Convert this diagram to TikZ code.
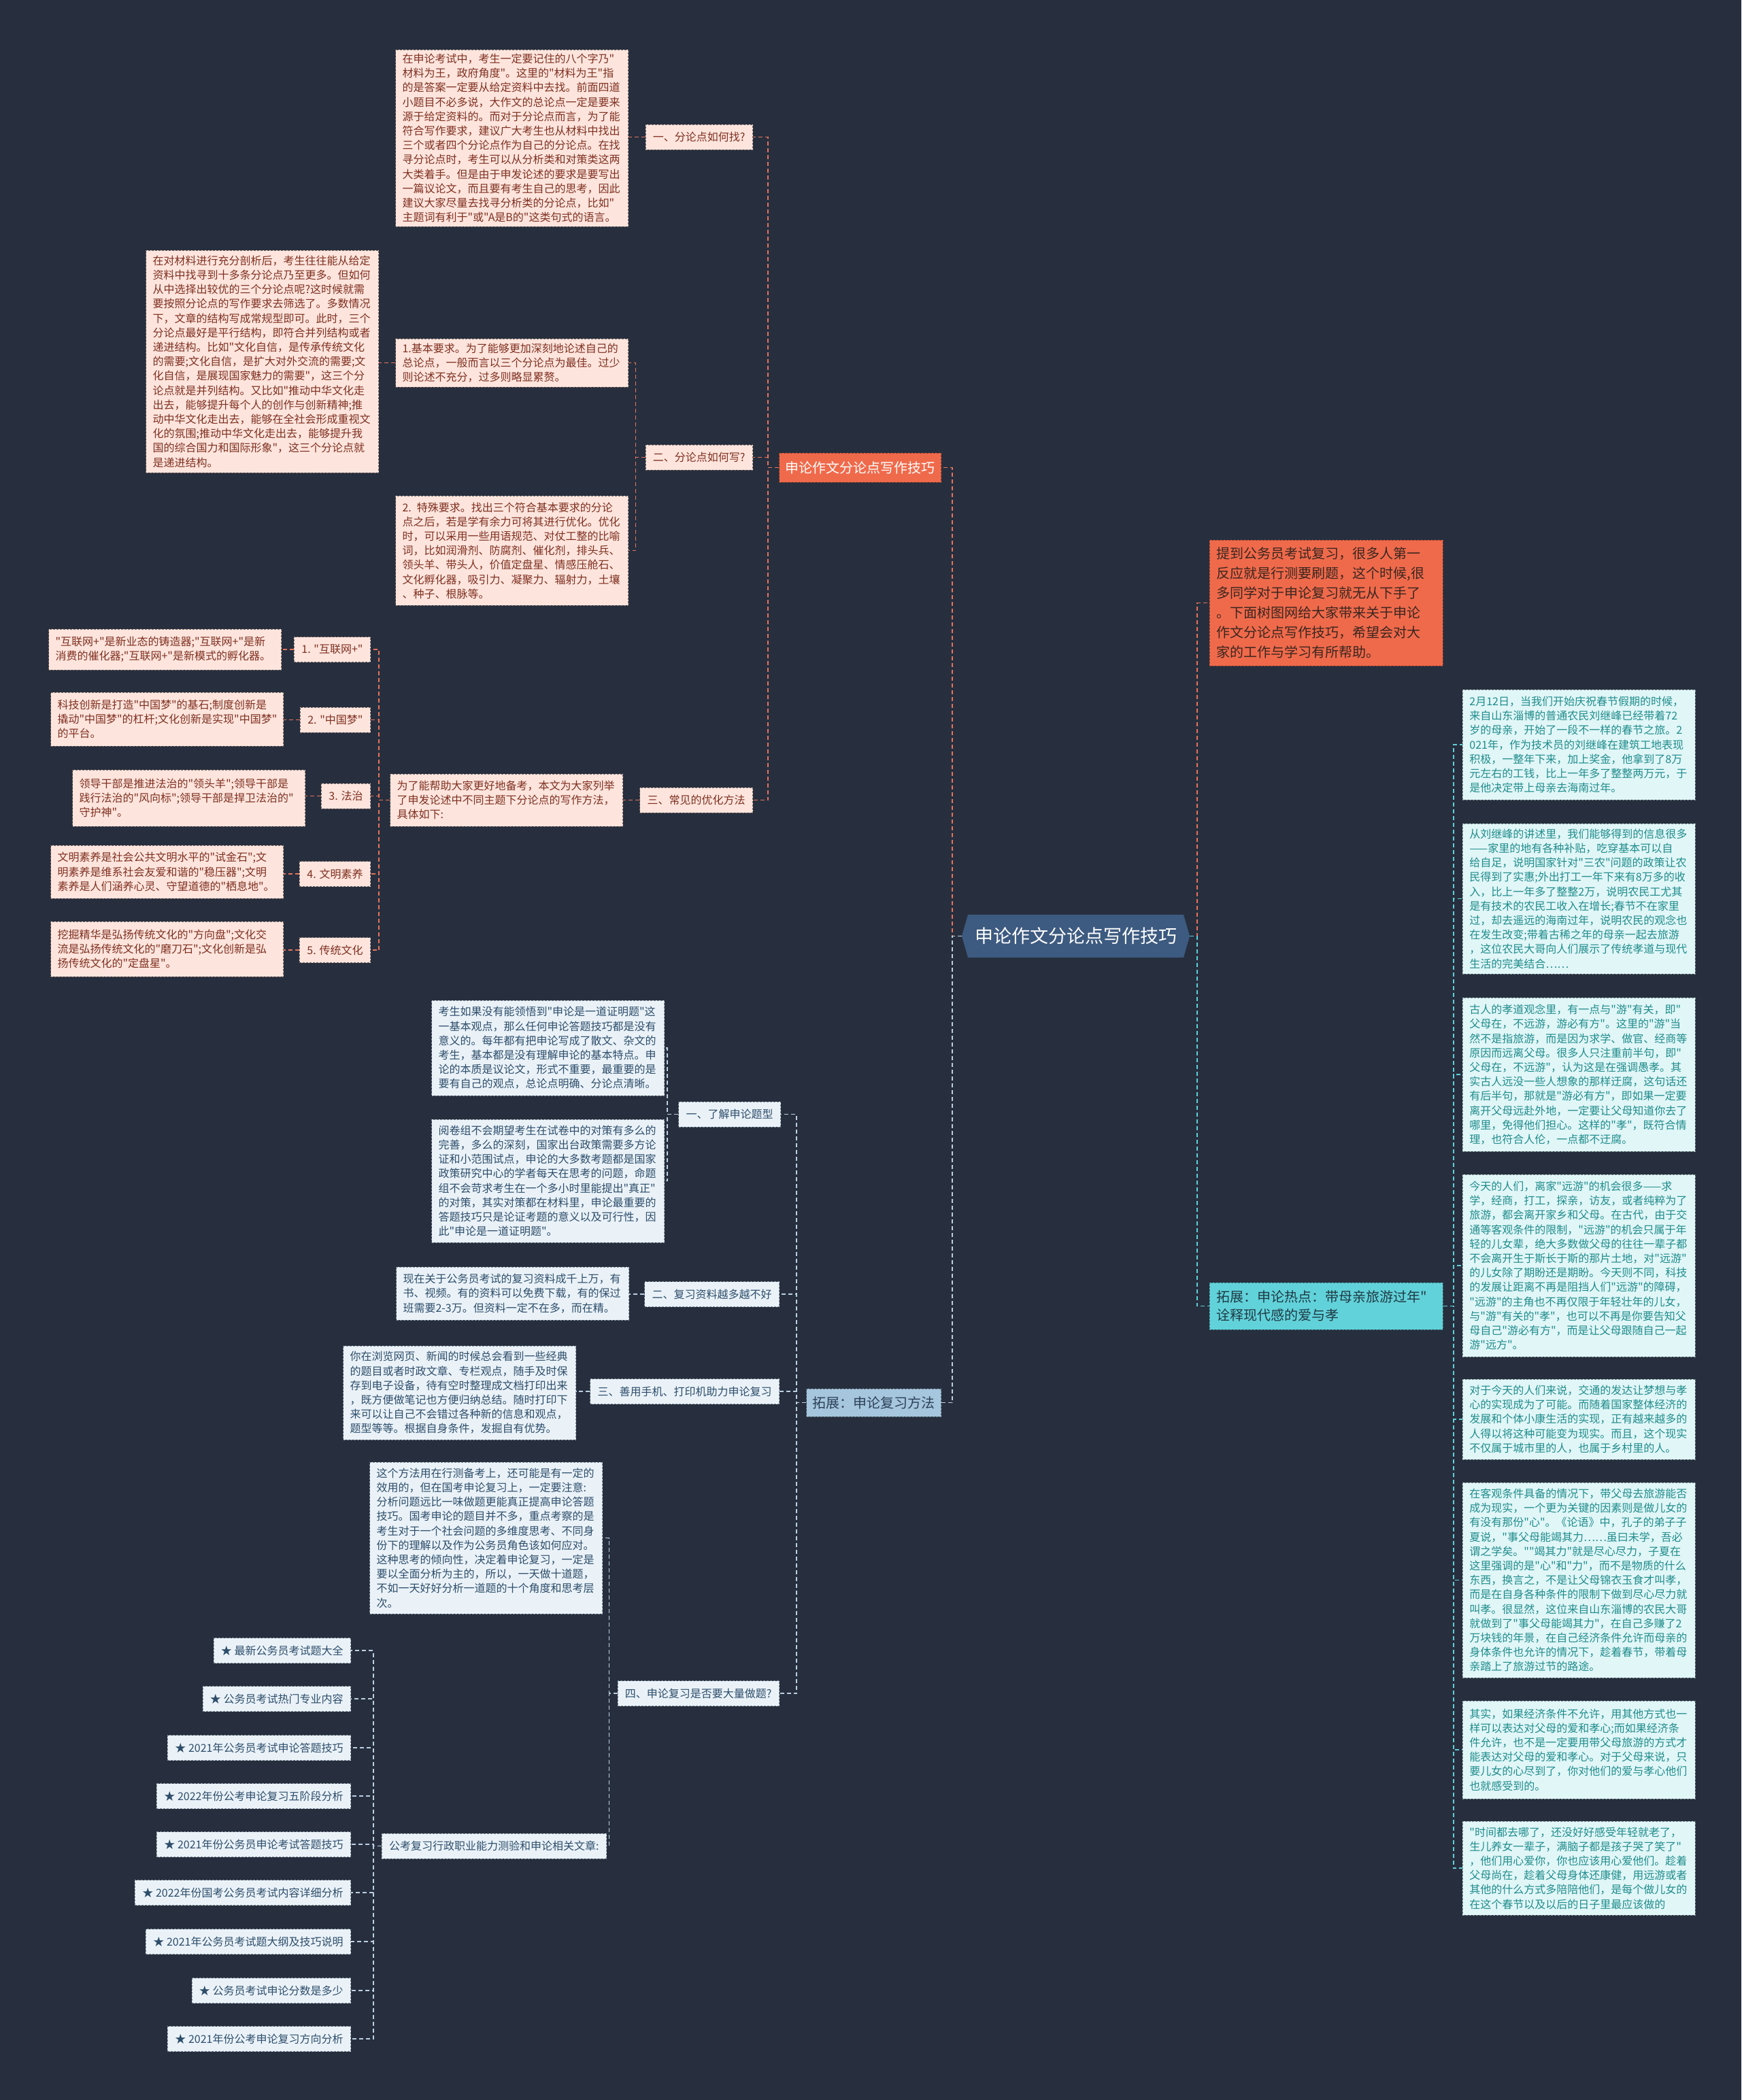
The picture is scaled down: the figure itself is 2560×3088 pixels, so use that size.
\documentclass[tikz,border=0pt]{standalone}
\usepackage{fontspec}
\newfontfamily\cjkfam{Noto Sans CJK SC}
\newcommand\fsz[2]{\cjkfam\fontsize{#1}{#2}\selectfont}
\usetikzlibrary{calc}
\definecolor{bg}{HTML}{272F3E}
\definecolor{pinkfill}{HTML}{FDE5DD}
\definecolor{pinkedge}{HTML}{7A6A66}
\definecolor{pinktext}{HTML}{7F2F20}
\definecolor{orangefill}{HTML}{EF6A4B}
\definecolor{lineorange}{HTML}{E5735B}
\definecolor{introtext}{HTML}{3A2620}
\definecolor{centralfill}{HTML}{3D5A80}
\definecolor{cyanfill}{HTML}{62D2DA}
\definecolor{cyantext}{HTML}{1F3A44}
\definecolor{rfill}{HTML}{E1F6F7}
\definecolor{rtext}{HTML}{1F8C8C}
\definecolor{redge}{HTML}{7A8E90}
\definecolor{lbfill}{HTML}{EAF2F8}
\definecolor{lbtext}{HTML}{2D4D6A}
\definecolor{lbedge}{HTML}{7E8C98}
\definecolor{ebfill}{HTML}{A6C6DE}
\definecolor{ebtext}{HTML}{2B4057}
\definecolor{lineblue}{HTML}{BCD0E2}
\definecolor{linecyan}{HTML}{5FD0D9}
\begin{document}
\begin{tikzpicture}[x=1pt,y=-1pt,
  con/.style={line width=1.8pt, dash pattern=on 6pt off 4pt},
  oc/.style={con, draw=lineorange},
  cc/.style={con, draw=linecyan},
  bc/.style={con, draw=lineblue},
  base/.style={rectangle, align=left, line width=0.9pt, dash pattern=on 3pt off 2pt, inner ysep=5pt},
  small/.style={font=\fsz{16}{21.2}},
  pbox/.style={base, small, fill=pinkfill, draw=pinkedge, text=pinktext, text width=322pt, inner xsep=10pt},
  plab/.style={base, small, fill=pinkfill, draw=pinkedge, text=pinktext, inner xsep=11pt, minimum height=37pt},
  rbox/.style={base, small, fill=rfill, draw=redge, text=rtext, text width=322pt, inner xsep=10pt, anchor=west},
  lbox/.style={base, small, fill=lbfill, draw=lbedge, text=lbtext, text width=322pt, inner xsep=10pt, anchor=east},
  llab/.style={base, small, fill=lbfill, draw=lbedge, text=lbtext, inner xsep=11pt, minimum height=37pt, anchor=east}
]
\fill[bg] (0,0) rectangle (2560,3088);
\useasboundingbox (0,0) rectangle (2560,3088);

% ---------- central node ----------
\fill[centralfill] (1423,1345) -- (1740,1345) -- (1749,1376.5) -- (1740,1408) -- (1423,1408) -- (1414,1376.5) -- cycle;
\node[minimum width=335pt, minimum height=63pt, inner sep=0pt, text=white, font=\fsz{27}{32}] (cen) at (1581.5,1376.5) {申论作文分论点写作技巧};

% ---------- right side ----------
\node[base, fill=orangefill, draw=orangefill!60!black, text=introtext, font=\fsz{20}{29}, text width=322pt, inner xsep=10.5pt, minimum height=185pt, anchor=west] (intro) at (1778,886.5) {提到公务员考试复习，很多人第一\\反应就是行测要刷题，这个时候,很\\多同学对于申论复习就无从下手了\\。下面树图网给大家带来关于申论\\作文分论点写作技巧，希望会对大\\家的工作与学习有所帮助。};

\node[base, fill=cyanfill, draw=cyanfill!60!black, text=cyantext, font=\fsz{20}{27}, text width=322pt, inner xsep=10.5pt, minimum height=69pt, anchor=west] (hot) at (1778,1920.5) {拓展：申论热点：带母亲旅游过年"\\诠释现代感的爱与孝};

\node[rbox, minimum height=162pt] (r1) at (2150,1095) {2月12日，当我们开始庆祝春节假期的时候，\\来自山东淄博的普通农民刘继峰已经带着72\\岁的母亲，开始了一段不一样的春节之旅。2\\021年，作为技术员的刘继峰在建筑工地表现\\积极，一整年下来，加上奖金，他拿到了8万\\元左右的工钱，比上一年多了整整两万元，于\\是他决定带上母亲去海南过年。};
\node[rbox, minimum height=221pt] (r2) at (2150,1321.5) {从刘继峰的讲述里，我们能够得到的信息很多\\——家里的地有各种补贴，吃穿基本可以自\\给自足，说明国家针对"三农"问题的政策让农\\民得到了实惠;外出打工一年下来有8万多的收\\入，比上一年多了整整2万，说明农民工尤其\\是有技术的农民工收入在增长;春节不在家里\\过，却去遥远的海南过年，说明农民的观念也\\在发生改变;带着古稀之年的母亲一起去旅游\\，这位农民大哥向人们展示了传统孝道与现代\\生活的完美结合……};
\node[rbox, minimum height=226pt] (r3) at (2150,1580) {古人的孝道观念里，有一点与"游"有关，即"\\父母在，不远游，游必有方"。这里的"游"当\\然不是指旅游，而是因为求学、做官、经商等\\原因而远离父母。很多人只注重前半句，即"\\父母在，不远游"，认为这是在强调愚孝。其\\实古人远没一些人想象的那样迂腐，这句话还\\有后半句，那就是"游必有方"，即如果一定要\\离开父母远赴外地，一定要让父母知道你去了\\哪里，免得他们担心。这样的"孝"，既符合情\\理，也符合人伦，一点都不迂腐。};
\node[rbox, minimum height=268pt] (r4) at (2150,1861) {今天的人们，离家"远游"的机会很多——求\\学，经商，打工，探亲，访友，或者纯粹为了\\旅游，都会离开家乡和父母。在古代，由于交\\通等客观条件的限制，"远游"的机会只属于年\\轻的儿女辈，绝大多数做父母的往往一辈子都\\不会离开生于斯长于斯的那片土地，对"远游"\\的儿女除了期盼还是期盼。今天则不同，科技\\的发展让距离不再是阻挡人们"远游"的障碍，\\"远游"的主角也不再仅限于年轻壮年的儿女，\\与"游"有关的"孝"，也可以不再是你要告知父\\母自己"游必有方"，而是让父母跟随自己一起\\游"远方"。};
\node[rbox, minimum height=118pt] (r5) at (2150,2087) {对于今天的人们来说，交通的发达让梦想与孝\\心的实现成为了可能。而随着国家整体经济的\\发展和个体小康生活的实现，正有越来越多的\\人得以将这种可能变为现实。而且，这个现实\\不仅属于城市里的人，也属于乡村里的人。};
\node[rbox, minimum height=287pt] (r6) at (2150,2323.5) {在客观条件具备的情况下，带父母去旅游能否\\成为现实，一个更为关键的因素则是做儿女的\\有没有那份"心"。《论语》中，孔子的弟子子\\夏说，"事父母能竭其力……虽曰未学，吾必\\谓之学矣。""竭其力"就是尽心尽力，子夏在\\这里强调的是"心"和"力"，而不是物质的什么\\东西，换言之，不是让父母锦衣玉食才叫孝，\\而是在自身各种条件的限制下做到尽心尽力就\\叫孝。很显然，这位来自山东淄博的农民大哥\\就做到了"事父母能竭其力"，在自己多赚了2\\万块钱的年景，在自己经济条件允许而母亲的\\身体条件也允许的情况下，趁着春节，带着母\\亲踏上了旅游过节的路途。};
\node[rbox, minimum height=144pt] (r7) at (2150,2573) {其实，如果经济条件不允许，用其他方式也一\\样可以表达对父母的爱和孝心;而如果经济条\\件允许，也不是一定要用带父母旅游的方式才\\能表达对父母的爱和孝心。对于父母来说，只\\要儿女的心尽到了，你对他们的爱与孝心他们\\也就感受到的。};
\node[rbox, minimum height=138pt] (r8) at (2150,2747) {"时间都去哪了，还没好好感受年轻就老了，\\生儿养女一辈子，满脑子都是孩子哭了笑了"\\，他们用心爱你，你也应该用心爱他们。趁着\\父母尚在，趁着父母身体还康健，用远游或者\\其他的什么方式多陪陪他们，是每个做儿女的\\在这个春节以及以后的日子里最应该做的};

% ---------- upper left (orange branch) ----------
\node[base, fill=orangefill, draw=orangefill!60!black, text=white, font=\fsz{20}{24}, inner xsep=9pt, minimum height=43pt, anchor=east] (ob) at (1384,687.5) {申论作文分论点写作技巧};

\node[plab, anchor=east] (l1) at (1107,201.5) {一、分论点如何找?};
\node[plab, anchor=east] (l2) at (1107,672.5) {二、分论点如何写?};
\node[plab, anchor=east] (l3) at (1107,1176.5) {三、常见的优化方法};

\node[pbox, anchor=east, minimum height=260pt] (t1) at (924,203) {在申论考试中，考生一定要记住的八个字乃"\\材料为王，政府角度"。这里的"材料为王"指\\的是答案一定要从给定资料中去找。前面四道\\小题目不必多说，大作文的总论点一定是要来\\源于给定资料的。而对于分论点而言，为了能\\符合写作要求，建议广大考生也从材料中找出\\三个或者四个分论点作为自己的分论点。在找\\寻分论点时，考生可以从分析类和对策类这两\\大类着手。但是由于申发论述的要求是要写出\\一篇议论文，而且要有考生自己的思考，因此\\建议大家尽量去找寻分析类的分论点，比如"\\主题词有利于"或"A是B的"这类句式的语言。};

\node[pbox, anchor=east, minimum height=71pt] (t21) at (924,533.5) {1.基本要求。为了能够更加深刻地论述自己的\\总论点，一般而言以三个分论点为最佳。过少\\则论述不充分，过多则略显累赘。};
\node[pbox, anchor=east, minimum height=327pt] (t0) at (557,531.5) {在对材料进行充分剖析后，考生往往能从给定\\资料中找寻到十多条分论点乃至更多。但如何\\从中选择出较优的三个分论点呢?这时候就需\\要按照分论点的写作要求去筛选了。多数情况\\下，文章的结构写成常规型即可。此时，三个\\分论点最好是平行结构，即符合并列结构或者\\递进结构。比如"文化自信，是传承传统文化\\的需要;文化自信，是扩大对外交流的需要;文\\化自信，是展现国家魅力的需要"，这三个分\\论点就是并列结构。又比如"推动中华文化走\\出去，能够提升每个人的创作与创新精神;推\\动中华文化走出去，能够在全社会形成重视文\\化的氛围;推动中华文化走出去，能够提升我\\国的综合国力和国际形象"，这三个分论点就\\是递进结构。};
\node[pbox, anchor=east, minimum height=161pt] (t22) at (924,809.5) {2. 特殊要求。找出三个符合基本要求的分论\\点之后，若是学有余力可将其进行优化。优化\\时，可以采用一些用语规范、对仗工整的比喻\\词，比如润滑剂、防腐剂、催化剂，排头兵、\\领头羊、带头人，价值定盘星、情感压舱石、\\文化孵化器，吸引力、凝聚力、辐射力，土壤\\、种子、根脉等。};

\node[pbox, anchor=east, minimum height=77pt] (t3) at (916,1176.5) {为了能帮助大家更好地备考，本文为大家列举\\了申发论述中不同主题下分论点的写作方法，\\具体如下:};

\node[plab, anchor=east] (i1) at (545,955) {1. "互联网+"};
\node[plab, anchor=east] (i2) at (545,1058.5) {2. "中国梦"};
\node[plab, anchor=east] (i3) at (545,1170.5) {3. 法治};
\node[plab, anchor=east] (i4) at (545,1285) {4. 文明素养};
\node[plab, anchor=east] (i5) at (545,1397) {5. 传统文化};

\node[pbox, anchor=east, minimum height=60pt] (it1) at (414,955) {"互联网+"是新业态的铸造器;"互联网+"是新\\消费的催化器;"互联网+"是新模式的孵化器。};
\node[pbox, anchor=east, minimum height=79pt] (it2) at (417,1057.5) {科技创新是打造"中国梦"的基石;制度创新是\\撬动"中国梦"的杠杆;文化创新是实现"中国梦"\\的平台。};
\node[pbox, anchor=east, minimum height=83pt] (it3) at (449,1173.5) {领导干部是推进法治的"领头羊";领导干部是\\践行法治的"风向标";领导干部是捍卫法治的"\\守护神"。};
\node[pbox, anchor=east, minimum height=78pt] (it4) at (417,1282) {文明素养是社会公共文明水平的"试金石";文\\明素养是维系社会友爱和谐的"稳压器";文明\\素养是人们涵养心灵、守望道德的"栖息地"。};
\node[pbox, anchor=east, minimum height=81pt] (it5) at (417,1395.5) {挖掘精华是弘扬传统文化的"方向盘";文化交\\流是弘扬传统文化的"磨刀石";文化创新是弘\\扬传统文化的"定盘星"。};

% ---------- lower left (blue branch) ----------
\node[base, fill=ebfill, draw=ebfill!55!black, text=ebtext, font=\fsz{20}{24}, inner xsep=9pt, minimum height=41pt, anchor=east] (eb) at (1384,2062.5) {拓展：申论复习方法};

\node[llab] (m1) at (1148,1638.5) {一、了解申论题型};
\node[llab] (m2) at (1146,1903) {二、复习资料越多越不好};
\node[llab] (m3) at (1146,2046) {三、善用手机、打印机助力申论复习};
\node[llab] (m4) at (1146,2490) {四、申论复习是否要大量做题?};

\node[lbox, minimum height=140pt] (m1a) at (977,1541) {考生如果没有能领悟到"申论是一道证明题"这\\一基本观点，那么任何申论答题技巧都是没有\\意义的。每年都有把申论写成了散文、杂文的\\考生，基本都是没有理解申论的基本特点。申\\论的本质是议论文，形式不重要，最重要的是\\要有自己的观点，总论点明确、分论点清晰。};
\node[lbox, minimum height=181pt] (m1b) at (977,1736.5) {阅卷组不会期望考生在试卷中的对策有多么的\\完善，多么的深刻，国家出台政策需要多方论\\证和小范围试点，申论的大多数考题都是国家\\政策研究中心的学者每天在思考的问题，命题\\组不会苛求考生在一个多小时里能提出"真正"\\的对策，其实对策都在材料里，申论最重要的\\答题技巧只是论证考题的意义以及可行性，因\\此"申论是一道证明题"。};
\node[lbox, minimum height=78pt] (m2a) at (925,1902) {现在关于公务员考试的复习资料成千上万，有\\书、视频。有的资料可以免费下载，有的保过\\班需要2-3万。但资料一定不在多，而在精。};
\node[lbox, minimum height=138pt] (m3a) at (847,2048) {你在浏览网页、新闻的时候总会看到一些经典\\的题目或者时政文章、专栏观点，随手及时保\\存到电子设备，待有空时整理成文档打印出来\\，既方便做笔记也方便归纳总结。随时打印下\\来可以让自己不会错过各种新的信息和观点，\\题型等等。根据自身条件，发掘自有优势。};
\node[lbox, minimum height=223pt] (m4a) at (886,2261.5) {这个方法用在行测备考上，还可能是有一定的\\效用的，但在国考申论复习上，一定要注意:\\分析问题远比一味做题更能真正提高申论答题\\技巧。国考申论的题目并不多，重点考察的是\\考生对于一个社会问题的多维度思考、不同身\\份下的理解以及作为公务员角色该如何应对。\\这种思考的倾向性，决定着申论复习，一定是\\要以全面分析为主的，所以，一天做十道题，\\不如一天好好分析一道题的十个角度和思考层\\次。};
\node[llab] (m4b) at (892,2714.5) {公考复习行政职业能力测验和申论相关文章:};

\node[llab] (s1) at (516,2427) {★ 最新公务员考试题大全};
\node[llab] (s2) at (516,2498) {★ 公务员考试热门专业内容};
\node[llab] (s3) at (516,2570) {★ 2021年公务员考试申论答题技巧};
\node[llab] (s4) at (516,2641) {★ 2022年份公考申论复习五阶段分析};
\node[llab] (s5) at (516,2712) {★ 2021年份公务员申论考试答题技巧};
\node[llab] (s6) at (516,2783) {★ 2022年份国考公务员考试内容详细分析};
\node[llab] (s7) at (516,2855) {★ 2021年公务员考试题大纲及技巧说明};
\node[llab] (s8) at (516,2927) {★ 公务员考试申论分数是多少};
\node[llab] (s9) at (516,2998) {★ 2021年份公考申论复习方向分析};

% ---------- connectors ----------
\draw[oc] (cen.west) -- ++(-14,0) |- (ob.east);
\draw[bc] (cen.west) -- ++(-14,0) |- (eb.east);
\draw[oc] (cen.east) -- ++(11,0) |- (intro.west);
\draw[cc] (cen.east) -- ++(11,0) |- (hot.west);

\foreach \c in {l1,l2,l3} \draw[oc] (ob.west) -- ++(-16,0) |- (\c.east);
\draw[oc] (l1.west) -- (l1.west -| t1.east);
\draw[oc] (l2.west) -- ++(-14,0) |- (t21.east);
\draw[oc] (l2.west) -- ++(-14,0) |- (t22.east);
\draw[oc] (t21.west) -- (t21.west -| t0.east);
\draw[oc] (l3.west) -- (l3.west -| t3.east);
\foreach \c in {i1,i2,i3,i4,i5} \draw[oc] (t3.west) -- ++(-16,0) |- (\c.east);
\draw[oc] (i1.west) -- (i1.west -| it1.east);
\draw[oc] (i2.west) -- (i2.west -| it2.east);
\draw[oc] (i3.west) -- (i3.west -| it3.east);
\draw[oc] (i4.west) -- (i4.west -| it4.east);
\draw[oc] (i5.west) -- (i5.west -| it5.east);

\foreach \c in {r1,r2,r3,r4,r5,r6,r7,r8} \draw[cc] (hot.east) -- ++(15,0) |- (\c.west);

\foreach \c in {m1,m2,m3,m4} \draw[bc] (eb.west) -- ++(-14,0) |- (\c.east);
\draw[bc] (m1.west) -- ++(-16,0) |- (m1a.east);
\draw[bc] (m1.west) -- ++(-16,0) |- (m1b.east);
\draw[bc] (m2.west) -- (m2.west -| m2a.east);
\draw[bc] (m3.west) -- (m3.west -| m3a.east);
\draw[bc] (m4.west) -- ++(-12,0) |- (m4a.east);
\draw[bc] (m4.west) -- ++(-12,0) |- (m4b.east);
\foreach \c in {s1,s2,s3,s4,s5,s6,s7,s8,s9} \draw[bc] (m4b.west) -- ++(-12,0) |- (\c.east);
\end{tikzpicture}
\end{document}
